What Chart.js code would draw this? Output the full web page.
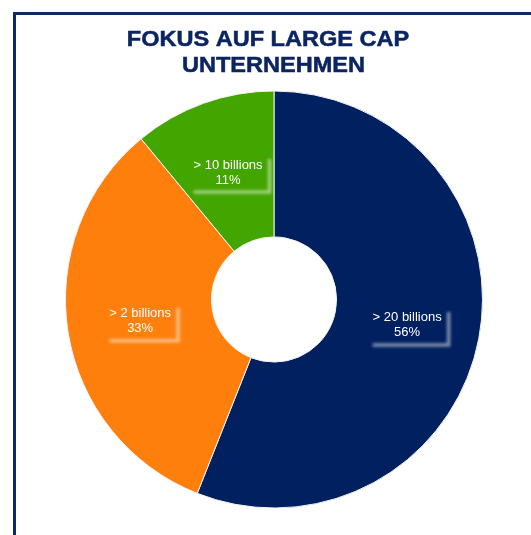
<!DOCTYPE html>
<html><head><meta charset="utf-8">
<script src="https://cdn.jsdelivr.net/npm/chart.js@4.4.0/dist/chart.umd.min.js"></script>
<style>
html,body{margin:0;padding:0;background:#fff;overflow:hidden;width:531px;height:535px;}
#frame{position:absolute;left:13px;top:12px;width:700px;height:700px;border:3px solid #0d2a63;box-sizing:border-box;}
#c{position:absolute;left:0;top:0;}
</style></head><body>
<div id="frame"></div>
<canvas id="c" width="531" height="535"></canvas>
<script>
const titleLines = ['FOKUS AUF LARGE CAP', 'UNTERNEHMEN'];
const categories = ['> 20 billions', '> 2 billions', '> 10 billions'];
const values = [56, 33, 11];
const colors = ['#002060', '#FF7F0C', '#43A500'];

const titlePlugin = {
  id: 'stretchedTitle',
  afterDraw(chart) {
    const ctx = chart.ctx;
    const pos = [[268, 45.7], [273.5, 71.7]];
    ctx.save();
    ctx.fillStyle = '#0b2462';
    ctx.strokeStyle = '#0b2462';
    ctx.lineWidth = 0.5;
    ctx.font = 'bold 22px "Liberation Sans", Arial, sans-serif';
    ctx.textAlign = 'center';
    ctx.textBaseline = 'alphabetic';
    titleLines.forEach((t, i) => {
      ctx.save();
      ctx.translate(pos[i][0], pos[i][1]);
      ctx.scale(1.07, 1);
      ctx.fillText(t, 0, 0);
      ctx.strokeText(t, 0, 0);
      ctx.restore();
    });
    ctx.restore();
  }
};

const labelPlugin = {
  id: 'sliceLabels',
  afterDatasetsDraw(chart) {
    const ctx = chart.ctx;
    const meta = chart.getDatasetMeta(0);
    meta.data.forEach((arc, i) => {
      const p = arc.tooltipPosition();
      const l1 = categories[i], l2 = values[i] + '%';
      ctx.save();
      ctx.font = '13px "Liberation Sans", Arial, sans-serif';
      const w = Math.max(ctx.measureText(l1).width, ctx.measureText(l2).width);
      const left = p.x - w / 2, right = p.x + w / 2 + 7, top = p.y - 13, bottom = p.y + 20;
      ctx.filter = 'blur(1.5px)';
      ctx.strokeStyle = 'rgba(255,255,255,0.5)';
      ctx.lineWidth = 3.5;
      ctx.beginPath();
      ctx.moveTo(right, top);
      ctx.lineTo(right, bottom);
      ctx.lineTo(left, bottom);
      ctx.stroke();
      ctx.filter = 'none';
      ctx.fillStyle = '#ffffff';
      ctx.textAlign = 'center';
      ctx.textBaseline = 'middle';
      ctx.fillText(l1, p.x, p.y - 7);
      ctx.fillText(l2, p.x, p.y + 8);
      ctx.restore();
    });
  }
};

new Chart(document.getElementById('c'), {
  type: 'doughnut',
  data: {
    labels: categories,
    datasets: [{
      data: values,
      backgroundColor: colors,
      borderColor: '#f2f2f2',
      borderWidth: 1
    }]
  },
  options: {
    responsive: false,
    animation: false,
    cutout: '30%',
    layout: { padding: { left: 65, right: 48, top: 90, bottom: 26 } },
    plugins: { legend: { display: false }, tooltip: { enabled: false }, title: { display: false } }
  },
  plugins: [titlePlugin, labelPlugin]
});
</script>
</body></html>
